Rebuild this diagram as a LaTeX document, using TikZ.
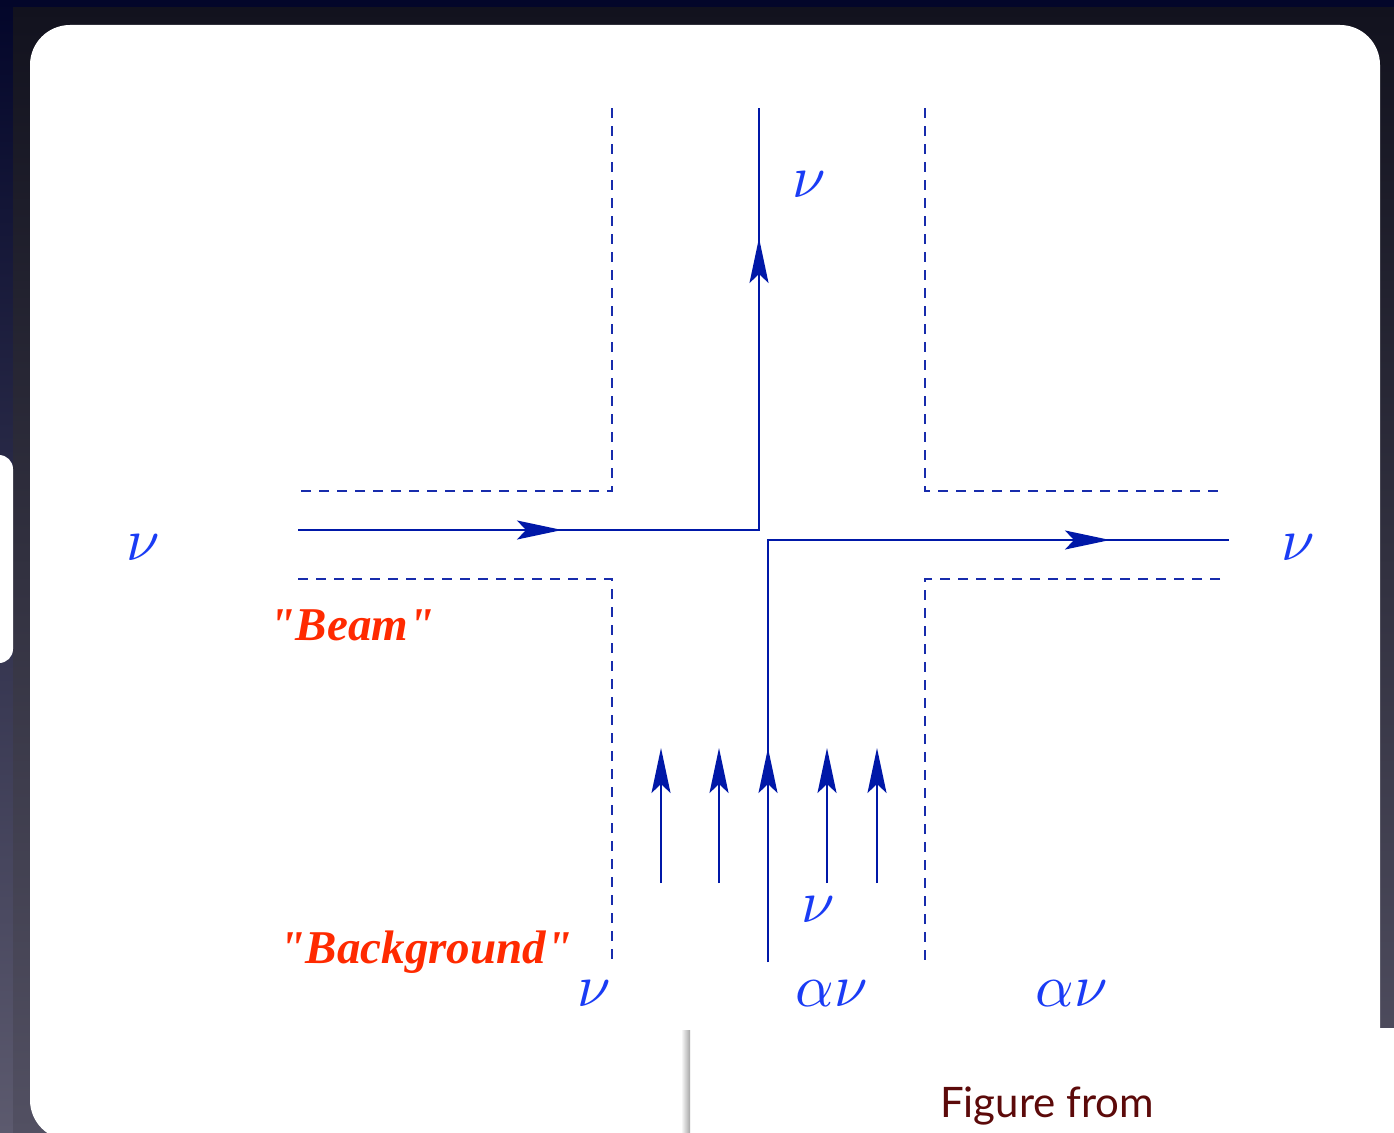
\documentclass[tikz,border=0pt]{standalone}
\usepackage{fontspec}
\newfontfamily\labfont{Liberation Serif}
\newfontfamily\figfont{Lato}
\usetikzlibrary{arrows.meta}
\definecolor{lineblue}{RGB}{0,24,168}
\definecolor{dashblue}{RGB}{24,44,172}
\definecolor{nublue}{RGB}{26,60,245}
\definecolor{beamred}{RGB}{255,42,0}
\definecolor{figred}{RGB}{92,10,10}
\definecolor{bgtop}{RGB}{3,6,42}
\definecolor{bgbot}{RGB}{92,90,110}
\definecolor{frtop}{RGB}{18,18,30}
\definecolor{frbot}{RGB}{82,80,98}
\tikzset{
  flow/.style={draw=lineblue, line width=2pt},
  tip/.style={flow, -{Stealth[length=45pt,width=19pt,inset=9pt]}},
  wall/.style={draw=dashblue, line width=1.8pt, dash pattern=on 10pt off 8pt},
  nulab/.style={text=nublue, inner sep=0pt, anchor=base, scale=6},
  redlab/.style={text=beamred, inner sep=0pt, anchor=base, font=\labfont\fontsize{47}{50}\selectfont\bfseries\itshape},
}
\begin{document}
\begin{tikzpicture}[x=1pt,y=-1pt]
\useasboundingbox (0,0) rectangle (1394,1132);
% slide background
\shade[top color=bgtop, bottom color=bgbot] (0,0) rectangle (1394,1132);
\shade[top color=frtop, bottom color=frbot] (13,8) rectangle (1394,1132);
\fill[white, rounded corners=40pt] (30,25) rectangle (1380,1140);
\fill[white, rounded corners=14pt] (-30,455) rectangle (13,663);
% bottom-right panel
\fill[white] (690,1028) rectangle (1394,1140);
\shade[left color=white, right color=black!35] (681,1030) rectangle (690,1140);
\node[text=figred, inner sep=0pt, anchor=base, font=\figfont\fontsize{42}{45}\selectfont] (fig) at (1047,1117) {Figure from};

% channel walls
\draw[wall] (612,108) -- (612,491) -- (298,491);
\draw[wall] (925,108) -- (925,491) -- (1220,491);
\draw[wall] (298,579) -- (612,579) -- (612,962);
\draw[wall] (1220,579) -- (925,579) -- (925,962);

% beam path
\coordinate (bin) at (298,530);
\coordinate (bcorner) at (759,530);
\coordinate (bout) at (759,108);
\coordinate (btip) at (562,530);
\coordinate (utip) at (759,238);
\draw[flow] (bin) -- (bcorner) -- (bout);
\draw[tip] (bin) -- (btip);
\draw[tip] (bcorner) -- (utip);

% background path
\coordinate (gin) at (768,962);
\coordinate (gcorner) at (768,540);
\coordinate (gout) at (1229,540);
\coordinate (gtip) at (1110,540);
\coordinate (gup) at (768,748);
\draw[flow] (gin) -- (gcorner) -- (gout);
\draw[tip] (gcorner) -- (gtip);
\draw[tip] (gin) -- (gup);

% background arrows
\foreach \n/\x in {a/661,b/719,c/827,d/877}{
  \coordinate (s\n) at (\x,883);
  \coordinate (t\n) at (\x,748);
  \draw[tip] (s\n) -- (t\n);
}

% labels
\node[nulab] (nuup) at (809,197) {$\nu$};
\node[nulab] (nuleft) at (143,560) {$\nu$};
\node[nulab] (nuright) at (1298,560) {$\nu$};
\node[nulab] (nubg) at (818,922) {$\nu$};
\node[nulab] (nubl) at (594,1006) {$\nu$};
\node[nulab] (anum) at (832,1006) {$\alpha\nu$};
\node[nulab] (anur) at (1072,1006) {$\alpha\nu$};
\node[redlab] (beam) at (352,640) {"Beam"};
\node[redlab] (bgl) at (426,963) {"Background"};
\end{tikzpicture}
\end{document}
